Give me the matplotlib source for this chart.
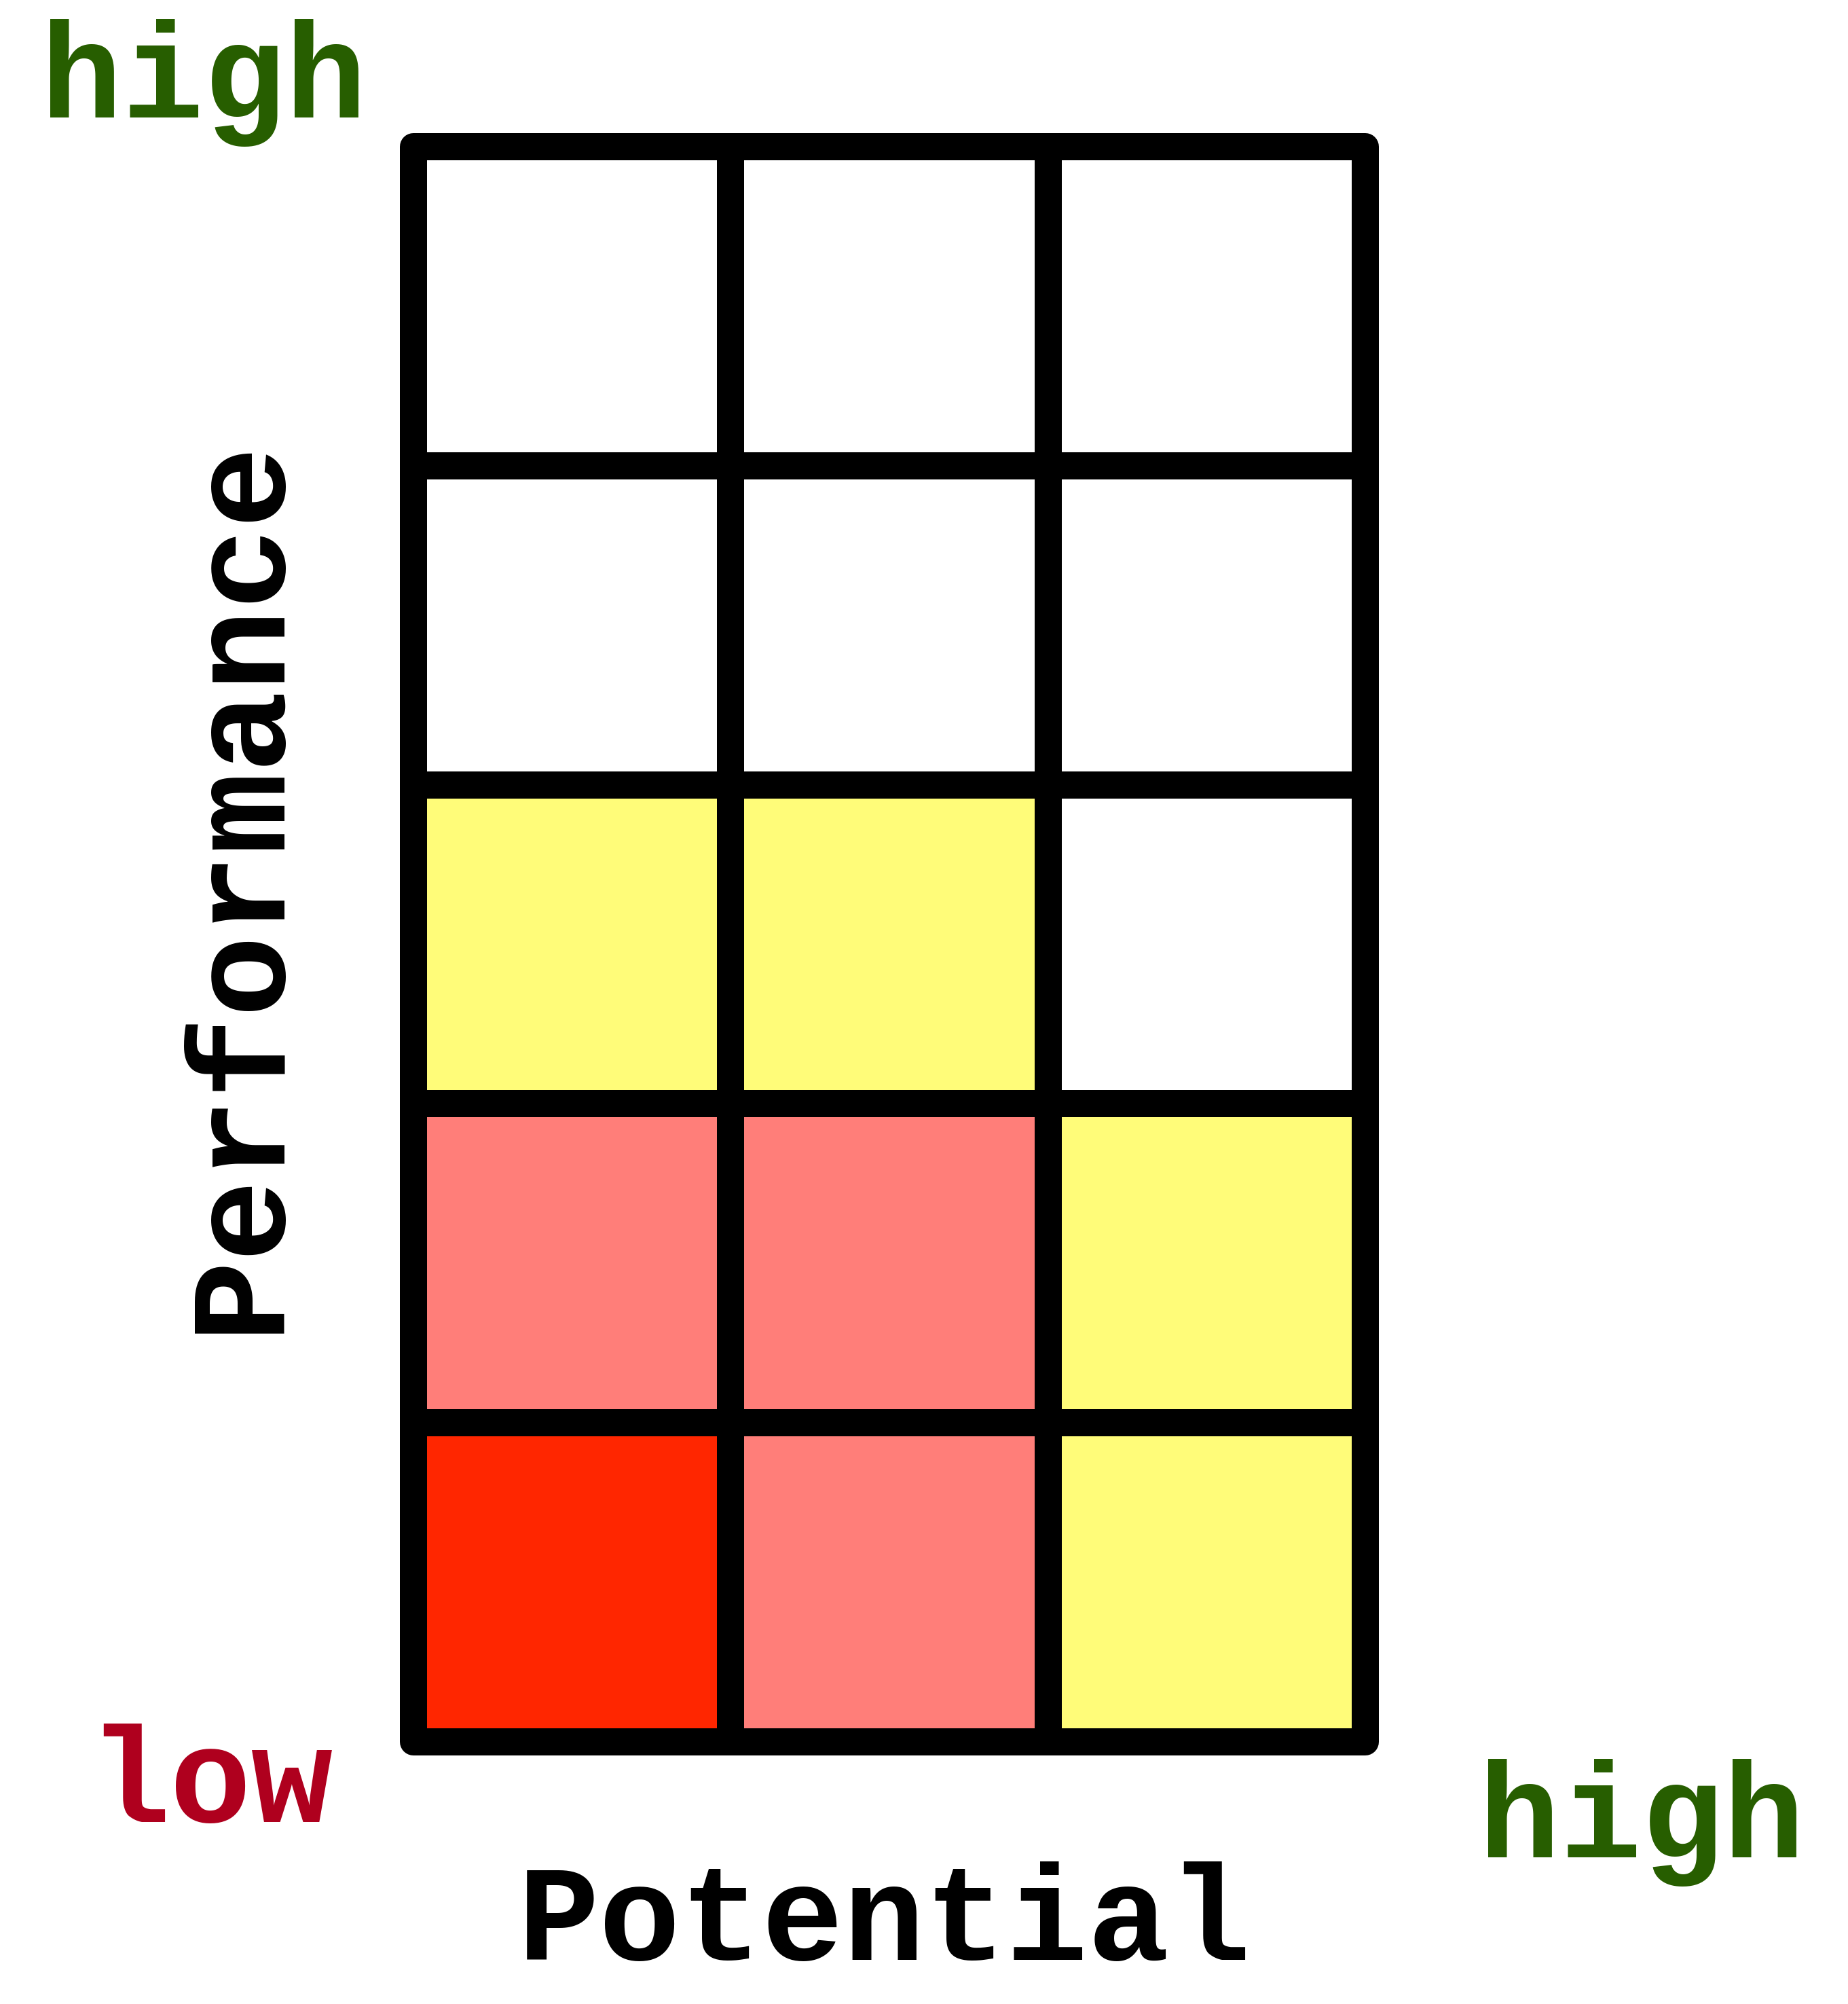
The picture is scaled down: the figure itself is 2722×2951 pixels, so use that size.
import matplotlib
matplotlib.use("Agg")
import matplotlib.pyplot as plt
from matplotlib.patches import Rectangle

# 3 x 5 grid: columns = potential (low -> high), rows = performance (low -> high)
potential_levels = [0, 1, 2]
performance_levels = [0, 1, 2, 3, 4]
# colour per cell, rows listed from bottom (low performance) to top
cell_colors = [
    ["#FF2600", "#FF7E79", "#FFFC79"],
    ["#FF7E79", "#FF7E79", "#FFFC79"],
    ["#FFFC79", "#FFFC79", "#FFFFFF"],
    ["#FFFFFF", "#FFFFFF", "#FFFFFF"],
    ["#FFFFFF", "#FFFFFF", "#FFFFFF"],
]

W, H, DPI = 2722, 2951, 100
fig = plt.figure(figsize=(W / DPI, H / DPI), dpi=DPI)
fig.patch.set_facecolor("white")

ax = fig.add_axes([609 / W, 1 - 2565 / H, 1402 / W, 2349 / H])
ax.set_xlim(0, len(potential_levels))
ax.set_ylim(0, len(performance_levels))
ax.axis("off")

for r in performance_levels:
    for c in potential_levels:
        ax.add_patch(Rectangle((c, r), 1, 1, facecolor=cell_colors[r][c],
                               edgecolor="black", linewidth=28.8,
                               joinstyle="round", clip_on=False))

font = dict(family="Liberation Mono", weight="bold", fontsize=144)
green = "#275E00"
darkred = "#AF001E"

def px(x, y):
    return x / W, 1 - y / H

fig.text(*px(60, 173), "high", color=green, ha="left", va="baseline", **font)
fig.text(*px(130, 2683), "low", color=darkred, ha="left", va="baseline", **font)
fig.text(*px(2178, 2735), "high", color=green, ha="left", va="baseline", **font)
fig.text(*px(1303, 2886), "Potential", color="black", ha="center", va="baseline", **font)
fig.text(*px(407, 1303), "Performance", color="black", rotation=90,
         ha="center", va="baseline", rotation_mode="anchor", **font)

fig.savefig("out.png", dpi=DPI)
